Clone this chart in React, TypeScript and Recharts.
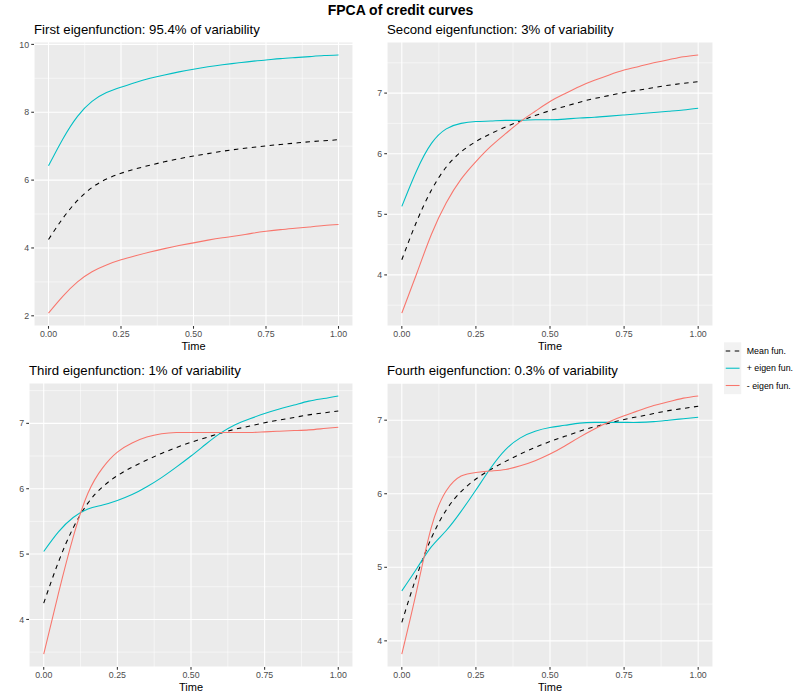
import React from 'react';
import { LineChart, Line, XAxis, YAxis, CartesianGrid } from 'recharts';

const TIME = [0, 0.05, 0.1, 0.15, 0.2, 0.25, 0.3, 0.35, 0.4, 0.45, 0.5, 0.55, 0.6, 0.65, 0.7, 0.75, 0.8, 0.85, 0.9, 0.95, 1.0];

const MEAN = [4.25, 4.88, 5.4, 5.78, 6.03, 6.2, 6.33, 6.44, 6.54, 6.63, 6.71, 6.78, 6.85, 6.91, 6.96, 7.01, 7.05, 7.09, 7.13, 7.16, 7.19];

const PLUS_1 = [6.42, 7.22, 7.88, 8.32, 8.58, 8.74, 8.88, 9.0, 9.1, 9.19, 9.27, 9.34, 9.4, 9.45, 9.5, 9.54, 9.58, 9.61, 9.64, 9.67, 9.69];
const MINUS_1 = [2.08, 2.58, 3.0, 3.3, 3.5, 3.65, 3.77, 3.88, 3.98, 4.07, 4.15, 4.23, 4.3, 4.36, 4.43, 4.49, 4.54, 4.58, 4.62, 4.66, 4.69];

const PLUS_2 = [5.13, 5.72, 6.17, 6.41, 6.5, 6.53, 6.54, 6.55, 6.55, 6.56, 6.56, 6.57, 6.59, 6.6, 6.62, 6.64, 6.66, 6.68, 6.7, 6.72, 6.75];
const MINUS_2 = [3.37, 4.02, 4.67, 5.19, 5.58, 5.87, 6.12, 6.33, 6.53, 6.7, 6.86, 6.99, 7.11, 7.21, 7.3, 7.38, 7.44, 7.5, 7.55, 7.6, 7.63];

const PLUS_3 = [5.04, 5.34, 5.56, 5.69, 5.75, 5.82, 5.91, 6.03, 6.17, 6.33, 6.5, 6.68, 6.85, 6.98, 7.07, 7.15, 7.22, 7.28, 7.34, 7.38, 7.42];
const MINUS_3 = [3.47, 4.4, 5.26, 5.93, 6.32, 6.56, 6.7, 6.79, 6.84, 6.86, 6.86, 6.86, 6.86, 6.86, 6.86, 6.87, 6.88, 6.89, 6.9, 6.92, 6.94];

const PLUS_4 = [4.68, 4.98, 5.28, 5.5, 5.76, 6.05, 6.35, 6.6, 6.76, 6.85, 6.9, 6.93, 6.96, 6.97, 6.97, 6.97, 6.97, 6.98, 7.0, 7.02, 7.04];
const MINUS_4 = [3.82, 4.68, 5.55, 6.04, 6.24, 6.29, 6.31, 6.33, 6.38, 6.45, 6.54, 6.65, 6.77, 6.88, 6.98, 7.06, 7.13, 7.2, 7.25, 7.3, 7.33];

const X_TICKS = [0, 0.25, 0.5, 0.75, 1];
const X_MINOR = [0.125, 0.375, 0.625, 0.875];

const Y_TICKS_1 = [2, 4, 6, 8, 10];
const Y_MINOR_1 = [3, 5, 7, 9];
const Y_TICKS_2 = [4, 5, 6, 7];
const Y_MINOR_2 = [3.5, 4.5, 5.5, 6.5, 7.5];
const Y_TICKS_3 = [4, 5, 6, 7];
const Y_MINOR_3 = [3.5, 4.5, 5.5, 6.5, 7.5];
const Y_TICKS_4 = [4, 5, 6, 7];
const Y_MINOR_4 = [4.5, 5.5, 6.5, 7.5];

const MAIN_TITLE = 'FPCA of credit curves';
const PANEL_TITLES = [
  'First eigenfunction: 95.4% of variability',
  'Second eigenfunction: 3% of variability',
  'Third eigenfunction: 1% of variability',
  'Fourth eigenfunction: 0.3% of variability',
];
const LEGEND_LABELS = ['Mean fun.', '+ eigen fun.', '- eigen fun.'];
const X_LABEL = 'Time';

const CYAN = '#00BFC4';
const RED = '#F8766D';
const FONT = '"Liberation Sans", Arial, Helvetica, sans-serif';
const DASH = '4.5 4.5';

function buildRows(plus: number[], minus: number[]) {
  return TIME.map((t, i) => ({ t, mean: MEAN[i], plus: plus[i], minus: minus[i] }));
}

function expandDomain(plus: number[], minus: number[]): [number, number] {
  const all = [...MEAN, ...plus, ...minus];
  const lo = Math.min(...all);
  const hi = Math.max(...all);
  const pad = (hi - lo) * 0.05;
  return [lo - pad, hi + pad];
}

type PanelProps = {
  plus: number[];
  minus: number[];
  yTicks: number[];
  yMinor: number[];
  left: number;
  top: number;
  yAxisWidth: number;
};

function Panel({ plus, minus, yTicks, yMinor, left, top, yAxisWidth }: PanelProps) {
  const data = buildRows(plus, minus);
  const domain = expandDomain(plus, minus);
  return (
    <div style={{ position: 'absolute', left, top }}>
      <LineChart
        width={360}
        height={320}
        data={data}
        margin={{ top: 6, right: 7, bottom: 4, left: 0 }}
      >
        <CartesianGrid
          fill="#EBEBEB"
          fillOpacity={1}
          stroke="#FFFFFF"
          strokeWidth={0.53}
          verticalValues={X_MINOR}
          horizontalValues={yMinor}
        />
        <CartesianGrid stroke="#FFFFFF" strokeWidth={1.07} />
        <XAxis
          dataKey="t"
          type="number"
          domain={[-0.05, 1.05]}
          ticks={X_TICKS}
          interval={0}
          tickFormatter={(v: number) => v.toFixed(2)}
          axisLine={false}
          tickLine={{ stroke: '#333333', strokeWidth: 1.07 }}
          tickSize={2.75}
          tickMargin={2.2}
          height={26}
          tick={{ fill: '#4D4D4D', fontSize: 8.8, fontFamily: FONT }}
          label={{
            value: X_LABEL,
            position: 'insideBottom',
            offset: 2,
            fill: '#000000',
            fontSize: 11,
            fontFamily: FONT,
          }}
        />
        <YAxis
          type="number"
          domain={domain}
          ticks={yTicks}
          interval={0}
          axisLine={false}
          tickLine={{ stroke: '#333333', strokeWidth: 1.07 }}
          tickSize={2.75}
          tickMargin={2.2}
          width={yAxisWidth}
          tick={{ fill: '#4D4D4D', fontSize: 8.8, fontFamily: FONT }}
          allowDataOverflow
        />
        <Line
          type="natural"
          dataKey="mean"
          stroke="#000000"
          strokeWidth={1.07}
          strokeDasharray={DASH}
          dot={false}
          activeDot={false}
          isAnimationActive={false}
        />
        <Line
          type="natural"
          dataKey="plus"
          stroke={CYAN}
          strokeWidth={1.07}
          dot={false}
          activeDot={false}
          isAnimationActive={false}
        />
        <Line
          type="natural"
          dataKey="minus"
          stroke={RED}
          strokeWidth={1.07}
          dot={false}
          activeDot={false}
          isAnimationActive={false}
        />
      </LineChart>
    </div>
  );
}

const PLOT_LEFTS = [34, 387, 29, 387];
const TITLE_BASELINES = [34, 34, 375, 375];

export default function App() {
  const keyX = 724;
  const keyY = 342.3;
  const keySize = 17.28;
  return (
    <div
      style={{
        position: 'absolute',
        left: 0,
        top: 0,
        width: 800,
        height: 700,
        background: '#FFFFFF',
        fontFamily: FONT,
        overflow: 'hidden',
      }}
    >
      <Panel plus={PLUS_1} minus={MINUS_1} yTicks={Y_TICKS_1} yMinor={Y_MINOR_1} left={0} top={36} yAxisWidth={34} />
      <Panel plus={PLUS_2} minus={MINUS_2} yTicks={Y_TICKS_2} yMinor={Y_MINOR_2} left={360} top={36} yAxisWidth={27} />
      <Panel plus={PLUS_3} minus={MINUS_3} yTicks={Y_TICKS_3} yMinor={Y_MINOR_3} left={0} top={377} yAxisWidth={29} />
      <Panel plus={PLUS_4} minus={MINUS_4} yTicks={Y_TICKS_4} yMinor={Y_MINOR_4} left={360} top={377} yAxisWidth={27} />
      <svg
        width={800}
        height={700}
        style={{ position: 'absolute', left: 0, top: 0, pointerEvents: 'none' }}
      >
        <text x={400.5} y={15} textAnchor="middle" fontSize={14} fontWeight="bold" fill="#000" fontFamily={FONT}>
          {MAIN_TITLE}
        </text>
        {PANEL_TITLES.map((t, i) => (
          <text key={t} x={PLOT_LEFTS[i]} y={TITLE_BASELINES[i]} fontSize={13.2} fill="#000" fontFamily={FONT}>
            {t}
          </text>
        ))}
        <rect x={keyX} y={keyY} width={keySize} height={keySize * 3} fill="#F2F2F2" />
        {LEGEND_LABELS.map((lab, i) => {
          const cy = keyY + keySize * i + keySize / 2;
          const color = i === 0 ? '#000000' : i === 1 ? CYAN : RED;
          return (
            <g key={lab}>
              <line
                x1={keyX + keySize * 0.1}
                x2={keyX + keySize * 0.9}
                y1={cy}
                y2={cy}
                stroke={color}
                strokeWidth={1.07}
                strokeDasharray={i === 0 ? DASH : undefined}
              />
              <text x={keyX + keySize + 5.5} y={cy + 3.1} fontSize={8.8} fill="#000" fontFamily={FONT}>
                {lab}
              </text>
            </g>
          );
        })}
      </svg>
    </div>
  );
}
